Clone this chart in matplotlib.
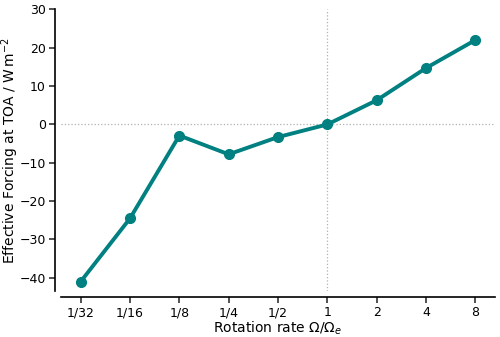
import matplotlib
matplotlib.use('Agg')
import matplotlib.pyplot as plt
import numpy as np

# rotation rates and effective forcing at TOA
rot_labels = ['1/32', '1/16', '1/8', '1/4', '1/2', '1', '2', '4', '8']
forcing = [-41.0, -24.5, -2.9, -7.8, -3.3, 0.0, 6.3, 14.7, 22.0]

fig = plt.figure(figsize=(5, 3.37), dpi=100)
ax = fig.add_axes([0.122, 0.136, 0.868, 0.836])

x = np.arange(len(rot_labels))
ax.axhline(0, color='#b0b0b0', ls=':', lw=0.9, zorder=1)
ax.axvline(x[rot_labels.index('1')], color='#b0b0b0', ls=':', lw=0.9, zorder=1)
ax.plot(x, forcing, color='#008080', lw=2.8, marker='o', ms=7, zorder=3)

ax.set_xticks(x)
ax.set_xticklabels(rot_labels)
ax.set_ylim(-43.5, 30)
ax.set_yticks(np.arange(-40, 31, 10))
ax.tick_params(labelsize=9, length=4.5, width=1.1, pad=2, color='#222222')
ax.set_xlabel(r'Rotation rate $\Omega/\Omega_e$', fontsize=10, labelpad=0)
ax.set_ylabel(r'Effective Forcing at TOA / W$\,$m$^{-2}$', fontsize=10)
ax.yaxis.set_label_coords(-0.093, 0.5)

for s in ['top', 'right']:
    ax.spines[s].set_visible(False)
for s in ['left', 'bottom']:
    ax.spines[s].set_position(('outward', 4.5))
    ax.spines[s].set_linewidth(1.2)

fig.savefig('out.png', dpi=100)
